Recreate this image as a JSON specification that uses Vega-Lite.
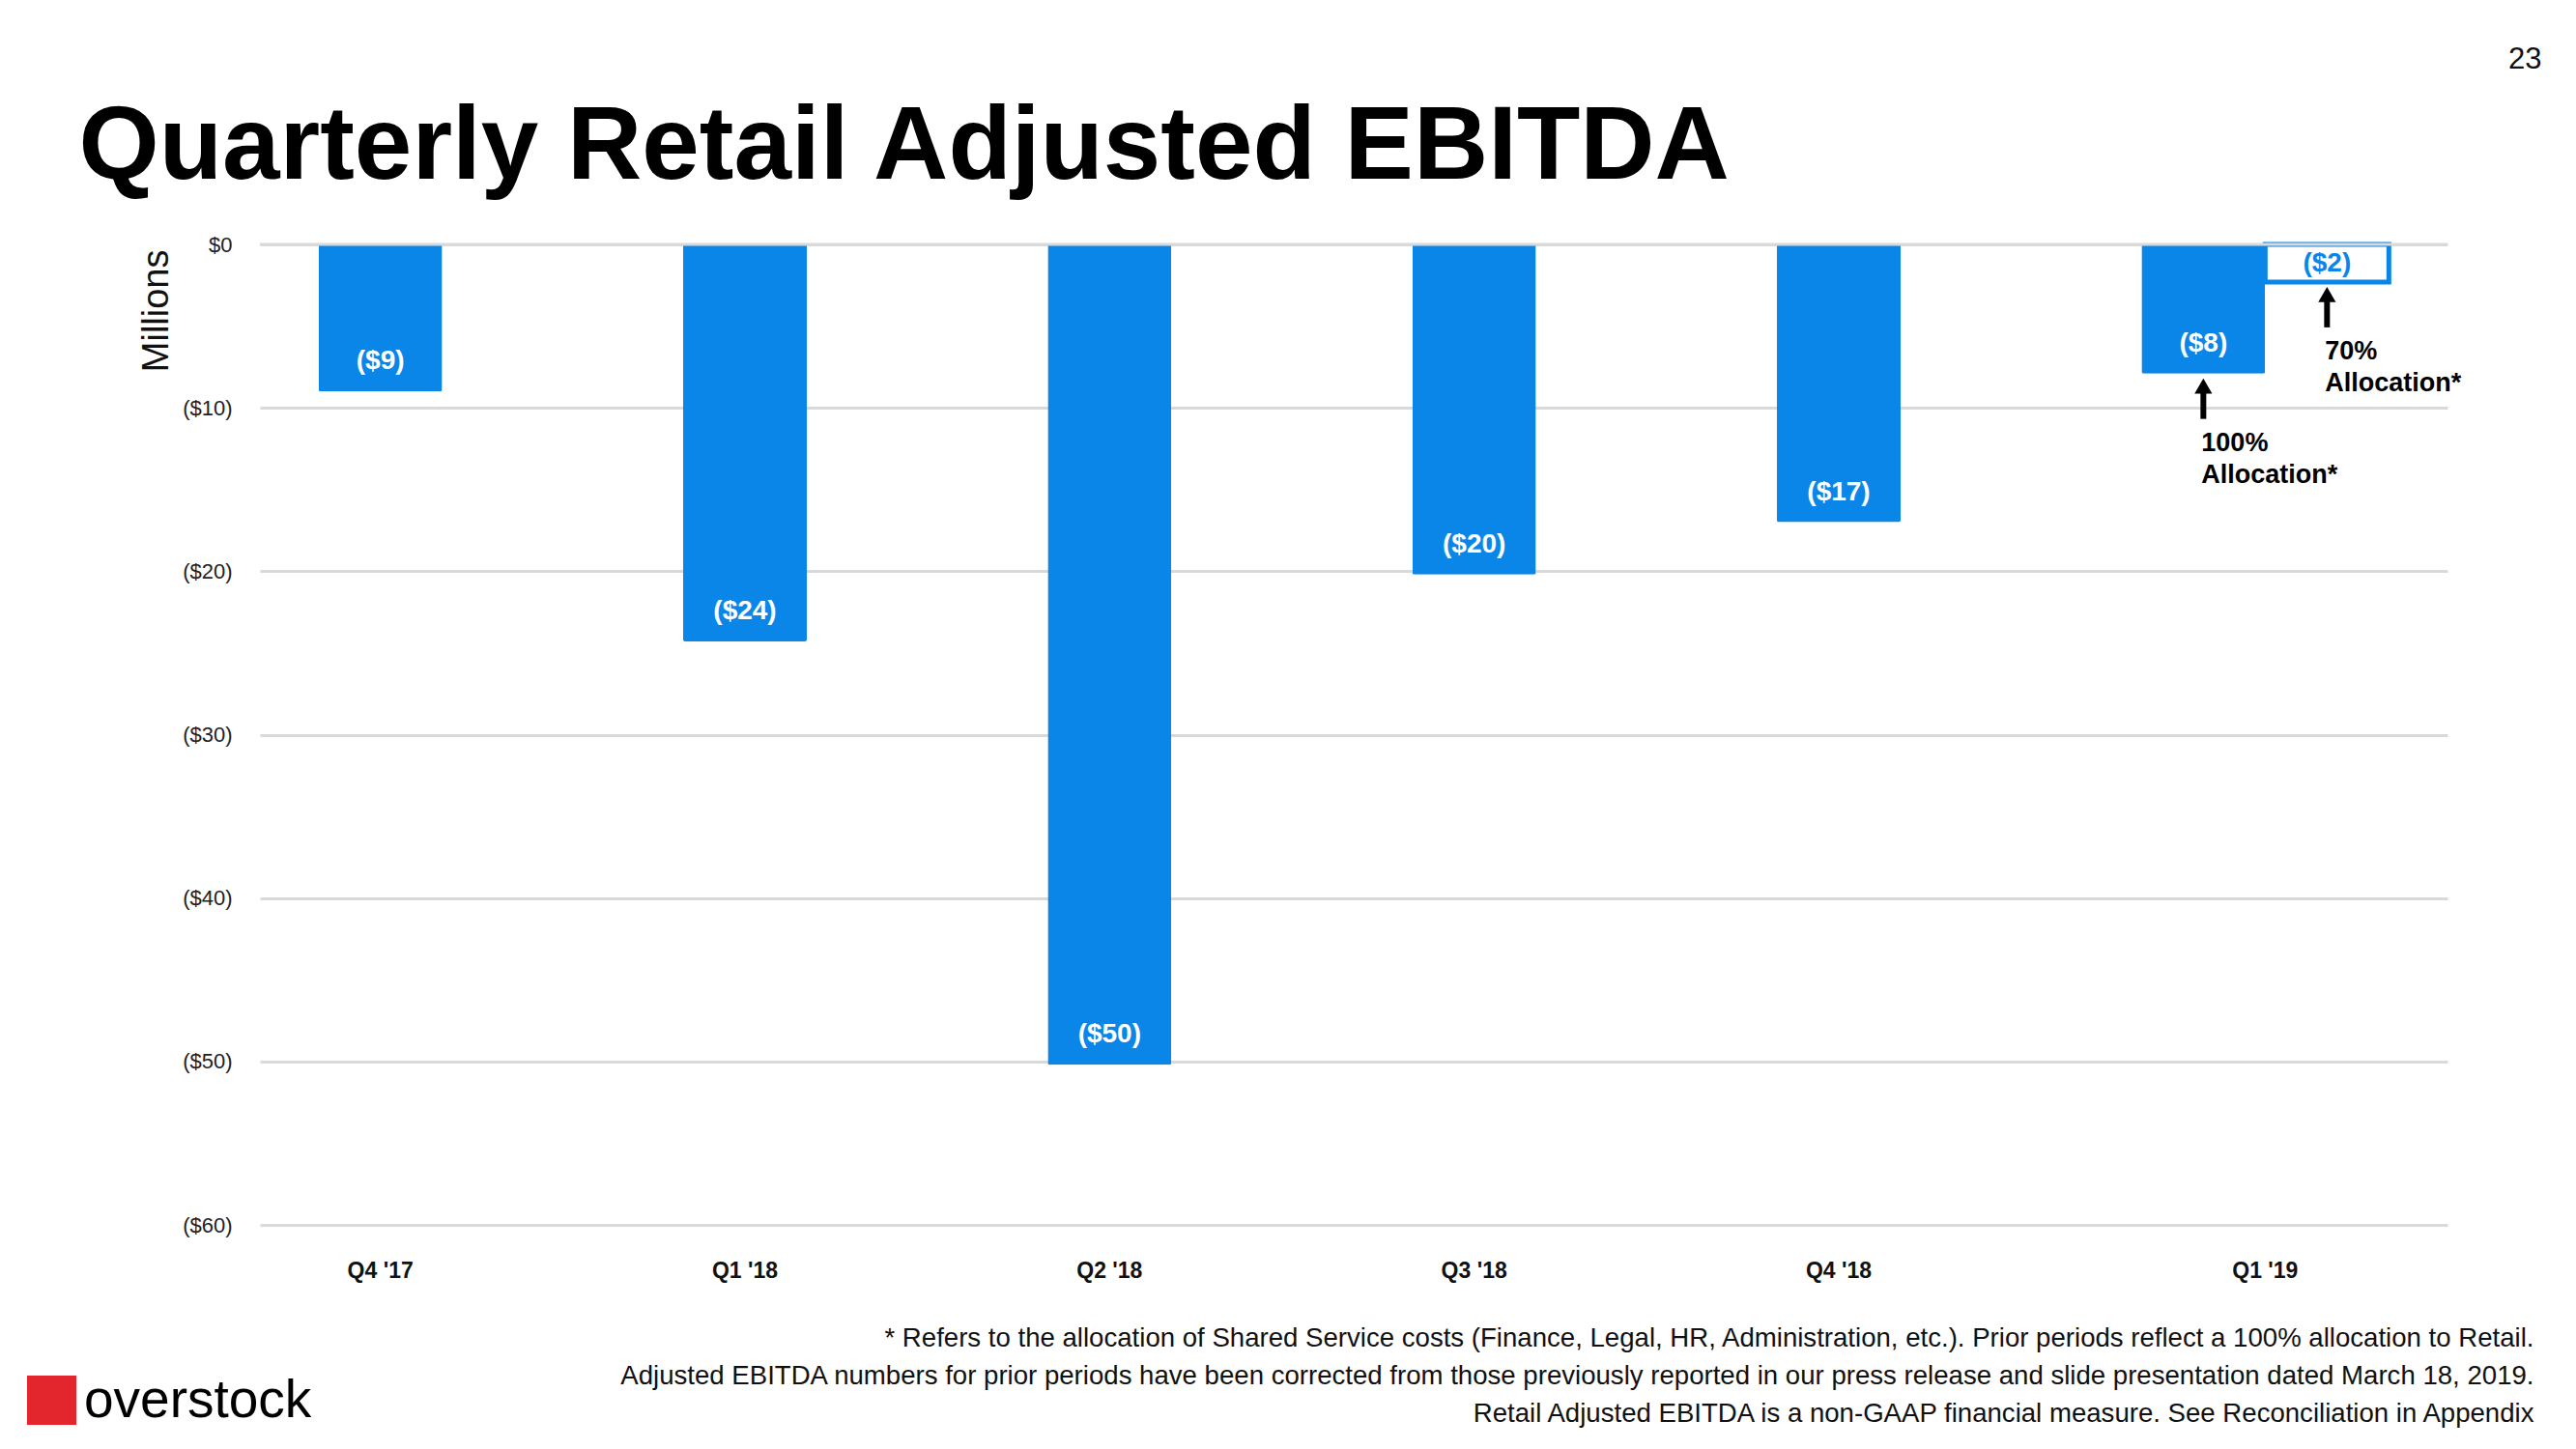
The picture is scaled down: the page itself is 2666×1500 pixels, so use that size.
{
  "$schema": "https://vega.github.io/schema/vega-lite/v6.json",
  "width": 2264,
  "height": 1015,
  "autosize": {"type": "none"},
  "padding": {"left": 269, "top": 253, "right": 133, "bottom": 232},
  "background": "white",
  "config": {"view": {"stroke": null}, "font": "Liberation Sans"},
  "data": {
    "values": [
      {"quarter": "Q4 '17", "series": "100%", "value": -9.0, "label": "($9)", "note": null},
      {"quarter": "Q1 '18", "series": "100%", "value": -24.3, "label": "($24)", "note": null},
      {"quarter": "Q2 '18", "series": "100%", "value": -50.2, "label": "($50)", "note": null},
      {"quarter": "Q3 '18", "series": "100%", "value": -20.2, "label": "($20)", "note": null},
      {"quarter": "Q4 '18", "series": "100%", "value": -17.0, "label": "($17)", "note": null},
      {"quarter": "Q1 '19", "series": "100%", "value": -7.9, "label": "($8)", "note": "100%\nAllocation*"},
      {"quarter": "Q1 '19", "series": "70%", "value": -2.3, "label": "($2)", "note": "70%\nAllocation*"}
    ]
  },
  "resolve": {"axis": {"x": "independent", "y": "independent"}},
  "layer": [
    {
      "transform": [{"filter": "datum.series === '100%'"}],
      "mark": {"type": "bar", "color": "#0A86E8", "cornerRadius": 2},
      "encoding": {
        "x": {
          "field": "quarter", "type": "nominal", "sort": null,
          "scale": {"type": "band", "domain": ["Q4 '17", "Q1 '18", "Q2 '18", "Q3 '18", "Q4 '18", "Q1 '19"], "paddingInner": 0, "paddingOuter": 0},
          "axis": {
            "orient": "bottom", "domain": false, "ticks": false, "tickSize": 0, "grid": false,
            "labelAngle": 0, "labelFont": "Liberation Sans", "labelFontSize": 23, "labelFontWeight": "bold",
            "labelColor": "#111111", "labelPadding": 36, "labelBaseline": "top", "labelOverlap": false,
            "labelOffset": {"condition": {"test": "datum.value == \"Q1 '19\"", "value": 0}, "value": -64},
            "title": [
              "* Refers to the allocation of Shared Service costs (Finance, Legal, HR, Administration, etc.). Prior periods reflect a 100% allocation to Retail.",
              "Adjusted EBITDA numbers for prior periods have been corrected from those previously reported in our press release and slide presentation dated March 18, 2019.",
              "Retail Adjusted EBITDA is a non-GAAP financial measure.  See Reconciliation in Appendix"
            ],
            "titleFont": "Liberation Sans", "titleFontSize": 27.6, "titleFontWeight": "normal", "titleColor": "#111111",
            "titleAlign": "right", "titleAnchor": "end", "titleBaseline": "alphabetic", "titleLineHeight": 39,
            "titleLimit": 3000, "titleX": 2353, "titleY": 125
          }
        },
        "xOffset": {"field": "series", "type": "nominal", "scale": {"domain": ["100%", "70%"], "paddingInner": 0, "paddingOuter": 0.474}},
        "y": {
          "field": "value", "type": "quantitative",
          "scale": {"domain": [-60, 0], "nice": false, "zero": false},
          "axis": {
            "orient": "left", "values": [0, -10, -20, -30, -40, -50, -60],
            "labelExpr": "datum.value == 0 ? '$0' : '($' + abs(datum.value) + ')'",
            "domain": false, "ticks": false, "tickSize": 0, "grid": true, "gridColor": "#d9d9d9", "gridWidth": 3,
            "labelFont": "Liberation Sans", "labelFontSize": 22, "labelColor": "#222222", "labelPadding": 29,
            "title": "Millions", "titleFont": "Liberation Sans", "titleFontSize": 38, "titleFontWeight": "normal",
            "titleColor": "#111111", "titleAngle": -90, "titleAlign": "right", "titleBaseline": "alphabetic",
            "titleX": -96, "titleY": 5
          }
        }
      }
    },
    {
      "transform": [{"filter": "datum.series === '70%'"}],
      "mark": {"type": "bar", "fill": "white", "stroke": "#0A86E8", "strokeWidth": 5},
      "encoding": {
        "x": {"field": "quarter", "type": "nominal", "sort": null, "axis": null},
        "xOffset": {"field": "series", "type": "nominal"},
        "y": {"field": "value", "type": "quantitative", "axis": null}
      }
    },
    {
      "transform": [{"aggregate": [{"op": "count", "as": "n"}]}],
      "mark": {"type": "rule", "color": "#d9d9d9", "strokeWidth": 3},
      "encoding": {
        "y": {"datum": 0, "type": "quantitative", "axis": null}
      }
    },
    {
      "transform": [{"filter": "datum.series === '100%'"}],
      "mark": {"type": "text", "color": "white", "fontSize": 28, "fontWeight": "bold", "baseline": "middle", "align": "center", "dy": -31},
      "encoding": {
        "x": {"field": "quarter", "type": "nominal", "sort": null, "axis": null},
        "xOffset": {"field": "series", "type": "nominal"},
        "y": {"field": "value", "type": "quantitative", "axis": null},
        "text": {"field": "label"}
      }
    },
    {
      "transform": [{"filter": "datum.series === '70%'"}],
      "mark": {"type": "text", "color": "#0A86E8", "fontSize": 28, "fontWeight": "bold", "baseline": "middle", "align": "center", "dy": -19},
      "encoding": {
        "x": {"field": "quarter", "type": "nominal", "sort": null, "axis": null},
        "xOffset": {"field": "series", "type": "nominal"},
        "y": {"field": "value", "type": "quantitative", "axis": null},
        "text": {"field": "label"}
      }
    },
    {
      "transform": [{"filter": "isValid(datum.note)"}],
      "mark": {"type": "rule", "color": "black", "strokeWidth": 6, "yOffset": 18, "y2Offset": 47},
      "encoding": {
        "x": {
          "field": "quarter", "type": "nominal", "sort": null,
          "axis": {
            "orient": "top", "labels": false, "ticks": false, "tickSize": 0, "domain": false, "grid": false,
            "title": "Quarterly Retail Adjusted EBITDA", "titleFont": "Liberation Sans", "titleFontSize": 107,
            "titleFontWeight": "bold", "titleColor": "black", "titleAlign": "left", "titleAnchor": "start",
            "titleBaseline": "alphabetic", "titleLimit": 3000, "titleX": -188, "titleY": -69
          }
        },
        "xOffset": {"field": "series", "type": "nominal"},
        "y": {"field": "value", "type": "quantitative", "axis": null},
        "y2": {"field": "value"}
      }
    },
    {
      "transform": [{"filter": "isValid(datum.note)"}],
      "mark": {"type": "point", "filled": true, "color": "black", "opacity": 1, "size": 330, "yOffset": 13, "shape": "triangle-up"},
      "encoding": {
        "x": {"field": "quarter", "type": "nominal", "sort": null, "axis": null},
        "xOffset": {"field": "series", "type": "nominal"},
        "y": {"field": "value", "type": "quantitative", "axis": null}
      }
    },
    {
      "transform": [{"aggregate": [{"op": "count", "as": "n"}]}],
      "mark": {"type": "square", "filled": true, "opacity": 1, "size": 0},
      "encoding": {
        "color": {
          "datum": "overstock", "type": "nominal",
          "scale": {"domain": ["overstock"], "range": ["#E3262D"]},
          "legend": {
            "orient": "none", "legendX": -243, "legendY": 1169, "title": null, "padding": 0,
            "symbolSize": 2600, "symbolType": "square", "symbolOpacity": 1, "symbolStrokeWidth": 0,
            "labelFont": "Liberation Sans", "labelFontSize": 55, "labelColor": "black", "labelOffset": 6, "labelLimit": 400
          }
        }
      }
    },
    {
      "transform": [{"filter": "isValid(datum.note)"}],
      "mark": {"type": "text", "color": "black", "fontSize": 27, "fontWeight": "bold", "align": "left", "baseline": "alphabetic", "dx": -2, "dy": 80, "lineBreak": "\n", "lineHeight": 33},
      "encoding": {
        "x": {"field": "quarter", "type": "nominal", "sort": null, "axis": null},
        "xOffset": {"field": "series", "type": "nominal"},
        "y": {
          "field": "value", "type": "quantitative",
          "axis": {
            "orient": "right", "labels": false, "ticks": false, "tickSize": 0, "domain": false, "grid": false,
            "title": "23", "titleAngle": 0, "titleAlign": "right", "titleBaseline": "alphabetic",
            "titleFont": "Liberation Sans", "titleFontSize": 31, "titleFontWeight": "normal", "titleColor": "#111111",
            "titleX": 97, "titleY": -183
          }
        },
        "text": {"field": "note"}
      }
    }
  ]
}
